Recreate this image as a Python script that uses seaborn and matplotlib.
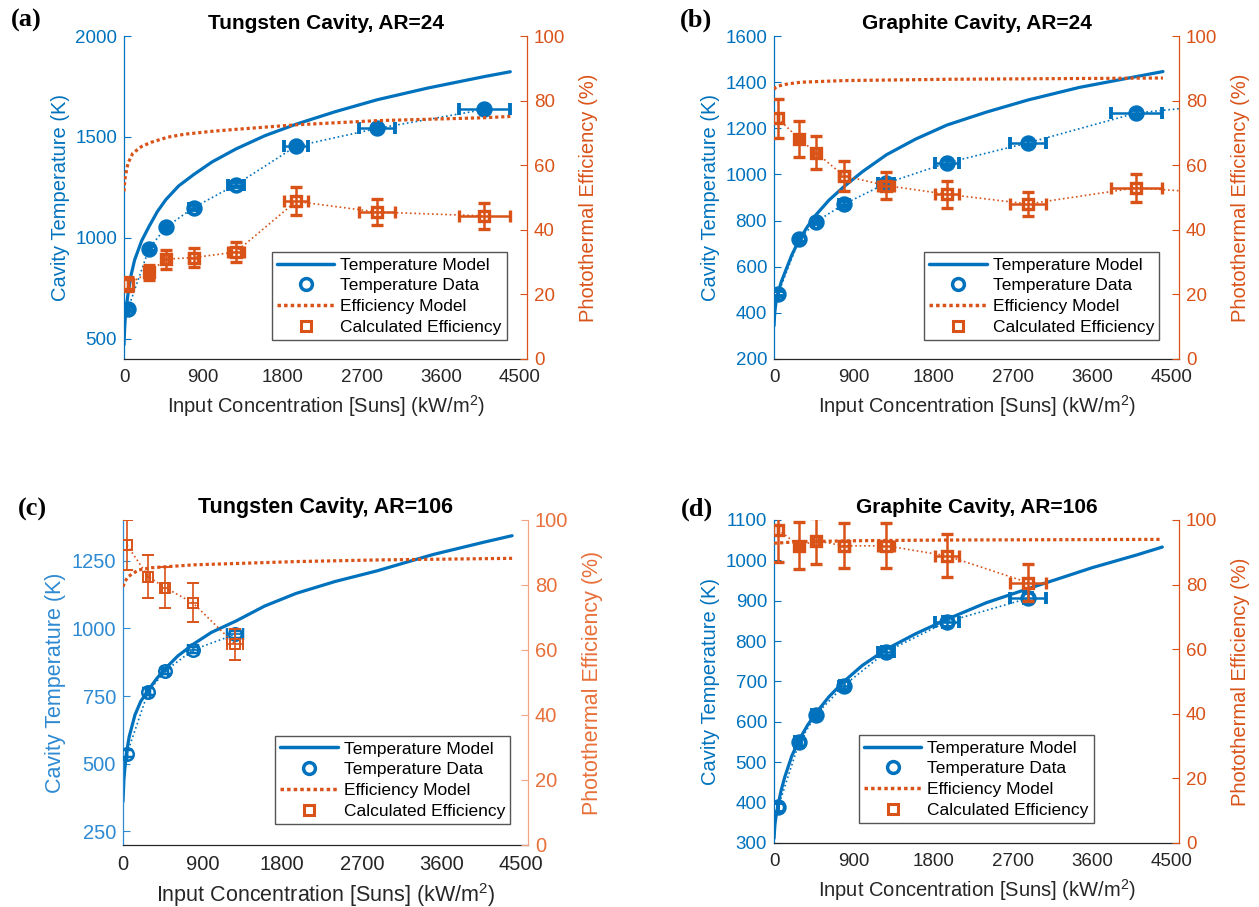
import matplotlib
matplotlib.use("Agg")
import matplotlib.pyplot as plt
from matplotlib.lines import Line2D
import seaborn as sns

sns.set_theme(style="white")
plt.rcParams["font.family"] = ["Liberation Sans", "DejaVu Sans"]
plt.rcParams["mathtext.fontset"] = "custom"
plt.rcParams["mathtext.rm"] = "Liberation Sans"

BLUE = "#0072BD"
ORANGE = "#D95319"
DARK = "#262626"

# ---- measured concentrations (suns) -------------------------------------
conc = [45, 285, 475, 790, 1270, 1955, 2875, 4095]
conc_rel_err = 0.07          # relative uncertainty of the input flux
temp_err = 12                # K

# ---- (a) Tungsten cavity, AR=24 ----------------------------------------
a_temp = [648, 947, 1052, 1150, 1263, 1454, 1542, 1636]
a_eff = [23.2, 26.8, 30.9, 31.4, 33.1, 48.8, 45.5, 44.3]
a_eff_err = [2.2, 2.3, 2.9, 2.9, 3.1, 4.3, 4.0, 4.0]
a_tmod_x = [0, 8, 20, 45, 80, 120, 200, 285, 380, 475, 620, 790, 1000, 1270,
            1600, 1955, 2400, 2875, 3450, 4095, 4390]
a_tmod_y = [470, 560, 640, 720, 815, 890, 985, 1057, 1131, 1189, 1257, 1313,
            1376, 1440, 1506, 1563, 1625, 1684, 1742, 1799, 1823]
a_emod_x = [0, 5, 15, 45, 100, 200, 310, 500, 690, 1000, 1270, 1950, 2880,
            4100, 4390]
a_emod_y = [51.9, 54.0, 56.5, 60.6, 63.7, 65.8, 67.1, 68.7, 69.6, 70.5, 71.1,
            72.5, 73.8, 74.7, 75.1]

# ---- (b) Graphite cavity, AR=24 ----------------------------------------
b_temp = [483, 719, 795, 871, 962, 1050, 1137, 1266]
b_eff = [74.5, 68.1, 63.9, 56.7, 53.7, 51.0, 48.0, 53.0]
b_eff_err = [6.1, 5.5, 5.0, 4.7, 4.3, 4.2, 3.8, 4.3]
b_trend_x = [4580]
b_trend_temp = [1285]
b_trend_eff = [52.1]
b_tmod_x = [0, 8, 20, 45, 80, 120, 200, 285, 380, 475, 620, 790, 1000, 1270,
            1600, 1955, 2400, 2875, 3450, 4095, 4398]
b_tmod_y = [344, 400, 440, 486, 532, 572, 650, 717, 775, 825, 888, 947, 1012,
            1085, 1153, 1214, 1270, 1323, 1377, 1424, 1446]
b_emod_x = [0, 15, 45, 160, 310, 790, 1955, 4398]
b_emod_y = [83.5, 84.0, 84.5, 85.2, 85.7, 86.2, 86.6, 87.0]

# ---- (c) Tungsten cavity, AR=106 ---------------------------------------
c_temp = [537, 766, 842, 920, 978]
c_eff = [92.3, 82.6, 79.2, 74.5, 61.7]
c_eff_err = [7.6, 6.7, 6.3, 6.0, 4.9]
c_tmod_x = [0, 10, 20, 38, 70, 135, 200, 286, 380, 474, 620, 793, 1000, 1278,
            1600, 1958, 2400, 2871, 3500, 4081, 4400]
c_tmod_y = [360, 440, 480, 537, 600, 680, 730, 772, 814, 850, 898, 941, 985,
            1027, 1082, 1129, 1173, 1212, 1272, 1318, 1342]
c_emod_x = [0, 20, 60, 173, 323, 800, 1958, 2871, 4400]
c_emod_y = [79.5, 81.0, 82.6, 84.6, 85.3, 86.2, 87.2, 87.7, 88.2]

# ---- (d) Graphite cavity, AR=106 ---------------------------------------
d_temp = [388, 550, 618, 690, 774, 848, 906]
d_eff = [97.0, 92.0, 93.6, 92.0, 92.0, 88.9, 80.6]
d_eff_err = [10.0, 7.3, 7.1, 7.0, 7.0, 6.7, 5.7]
d_tmod_x = [0, 10, 20, 45, 80, 121, 200, 285, 380, 475, 620, 790, 1000, 1270,
            1600, 1955, 2400, 2875, 3600, 4095, 4391]
d_tmod_y = [311, 345, 362, 394, 430, 463, 515, 556, 592, 622, 662, 700, 740,
            780, 818, 854, 895, 930, 982, 1013, 1033]
d_emod_x = [0, 300, 1000, 2000, 4391]
d_emod_y = [92.8, 93.3, 93.6, 93.8, 94.0]

x_ticks = [0, 900, 1800, 2700, 3600, 4500]
x_max = 4580


def draw_panel(fig, rect, letter, letter_xy, title, temp, eff, eff_err,
               tmod_x, tmod_y, emod_x, emod_y, ylim, yticks, legend_anchor,
               trend=None, light=False):
    n = len(temp)
    xs = conc[:n]
    xerr = [conc_rel_err * v for v in xs]

    if light:
        ax_blue, ax_orange_lbl, ax_orange_spine = "#2E8AD2", "#E8703A", "#F2A584"
        data_lw, mark_w = 1.2, 1.4
        tick_fs, label_fs, title_fs = 14.5, 15.5, 15.5
    else:
        ax_blue, ax_orange_lbl, ax_orange_spine = BLUE, ORANGE, ORANGE
        data_lw, mark_w = 1.8, 2.4
        tick_fs, label_fs, title_fs = 13.5, 14.5, 15

    ax = fig.add_axes(rect)
    ax2 = ax.twinx()

    # temperature axis
    line_x, line_t = list(xs), list(temp)
    if trend is not None:
        line_x += trend[0]
        line_t += trend[1]
    sns.lineplot(x=tmod_x, y=tmod_y, ax=ax, color=BLUE, linewidth=2.3,
                 sort=False, estimator=None, legend=False)
    sns.lineplot(x=line_x, y=line_t, ax=ax, color=BLUE, linewidth=1.2,
                 linestyle=":", sort=False, estimator=None, legend=False)
    ax.errorbar(xs, temp, xerr=xerr, yerr=temp_err, fmt="o", ms=9,
                mfc="none", mec=BLUE, mew=mark_w + 0.4, ecolor=BLUE,
                elinewidth=data_lw, capsize=4, capthick=data_lw, zorder=4)

    # efficiency axis
    line_e = list(eff)
    if trend is not None:
        line_e += trend[2]
    sns.lineplot(x=emod_x, y=emod_y, ax=ax2, color=ORANGE, linewidth=2.3,
                 linestyle=(0, (1, 0.9)), sort=False, estimator=None,
                 legend=False)
    sns.lineplot(x=line_x, y=line_e, ax=ax2, color=ORANGE, linewidth=1.2,
                 linestyle=":", sort=False, estimator=None, legend=False)
    ax2.errorbar(xs, eff, xerr=xerr, yerr=eff_err, fmt="s", ms=7.5,
                 mfc="none", mec=ORANGE, mew=mark_w, ecolor=ORANGE,
                 elinewidth=data_lw, capsize=4.5, capthick=data_lw, zorder=4)

    ax.set_xlim(0, x_max)
    ax.set_xticks(x_ticks)
    ax.set_ylim(*ylim)
    ax.set_yticks(yticks)
    ax2.set_ylim(0, 100)
    ax2.set_yticks([0, 20, 40, 60, 80, 100])

    ax.tick_params(axis="x", direction="in", length=5, width=0.8,
                   labelsize=tick_fs, colors=DARK, pad=7)
    ax.tick_params(axis="y", direction="in", length=5, width=0.8,
                   labelsize=tick_fs, colors=ax_blue, pad=5)
    ax2.tick_params(axis="y", direction="in", length=5, width=0.8,
                    labelsize=tick_fs, colors=ax_orange_lbl, pad=5)
    ax2.tick_params(axis="y", color=ax_orange_spine)

    for a in (ax, ax2):
        a.spines["top"].set_visible(False)
        a.grid(False)
    ax.spines["left"].set_color(ax_blue)
    ax.spines["bottom"].set_color(DARK)
    ax.spines["right"].set_visible(False)
    ax2.spines["left"].set_visible(False)
    ax2.spines["bottom"].set_visible(False)
    ax2.spines["right"].set_color(ax_orange_spine)
    for s in ("left", "bottom"):
        ax.spines[s].set_linewidth(0.9)
    ax2.spines["right"].set_linewidth(0.9)

    ax.set_ylabel("Cavity Temperature (K)", color=ax_blue, fontsize=label_fs,
                  labelpad=4)
    ax2.set_ylabel("Photothermal Efficiency (%)", color=ax_orange_lbl,
                   fontsize=label_fs, labelpad=10)
    ax.set_xlabel("Input Concentration [Suns] (kW/m$^{2}$)", color=DARK,
                  fontsize=label_fs, labelpad=5)
    ax.set_title(title, fontsize=title_fs, fontweight="bold", color="black",
                 pad=5)

    handles = [
        Line2D([], [], color=BLUE, lw=2.5),
        Line2D([], [], ls="none", marker="o", ms=8.5, mfc="none", mec=BLUE,
               mew=2.5),
        Line2D([], [], color=ORANGE, lw=2.5, ls=(0, (1, 0.9))),
        Line2D([], [], ls="none", marker="s", ms=7, mfc="none", mec=ORANGE,
               mew=2.2),
    ]
    labels = ["Temperature Model", "Temperature Data", "Efficiency Model",
              "Calculated Efficiency"]
    leg = ax2.legend(handles, labels, loc="lower right",
                     bbox_to_anchor=legend_anchor, borderaxespad=0,
                     fontsize=12.5, frameon=True, fancybox=False,
                     framealpha=1, edgecolor="#555555", handlelength=3.3,
                     handletextpad=0.35, labelspacing=0.32, borderpad=0.3)
    leg.get_frame().set_linewidth(1.0)
    for t in leg.get_texts():
        t.set_color("black")

    fig.text(letter_xy[0], letter_xy[1], letter, fontsize=19,
             fontweight="bold", family=["Liberation Serif", "DejaVu Serif"],
             ha="left", va="center", color="black")
    return ax, ax2


fig = plt.figure(figsize=(12.59, 9.07), dpi=100)
fig.patch.set_facecolor("white")

draw_panel(fig, [0.0985, 0.6042, 0.3201, 0.3561], "(a)", (0.009, 0.978),
           "Tungsten Cavity, AR=24", a_temp, a_eff, a_eff_err,
           a_tmod_x, a_tmod_y, a_emod_x, a_emod_y,
           (400, 2000), [500, 1000, 1500, 2000], (0.950, 0.059))

draw_panel(fig, [0.6148, 0.6042, 0.3217, 0.3561], "(b)", (0.540, 0.978),
           "Graphite Cavity, AR=24", b_temp, b_eff, b_eff_err,
           b_tmod_x, b_tmod_y, b_emod_x, b_emod_y,
           (200, 1600), [200, 400, 600, 800, 1000, 1200, 1400, 1600],
           (0.951, 0.059),
           trend=(b_trend_x, b_trend_temp, b_trend_eff))

draw_panel(fig, [0.0977, 0.0684, 0.3217, 0.3583], "(c)", (0.014, 0.438),
           "Tungsten Cavity, AR=106", c_temp, c_eff, c_eff_err,
           c_tmod_x, c_tmod_y, c_emod_x, c_emod_y,
           (200, 1400), [250, 500, 750, 1000, 1250], (0.956, 0.065),
           light=True)

draw_panel(fig, [0.6148, 0.0706, 0.3217, 0.3561], "(d)", (0.541, 0.438),
           "Graphite Cavity, AR=106", d_temp, d_eff, d_eff_err,
           d_tmod_x, d_tmod_y, d_emod_x, d_emod_y,
           (300, 1100), [300, 400, 500, 600, 700, 800, 900, 1000, 1100],
           (0.790, 0.062))

fig.savefig("out.png", dpi=100, facecolor="white")
